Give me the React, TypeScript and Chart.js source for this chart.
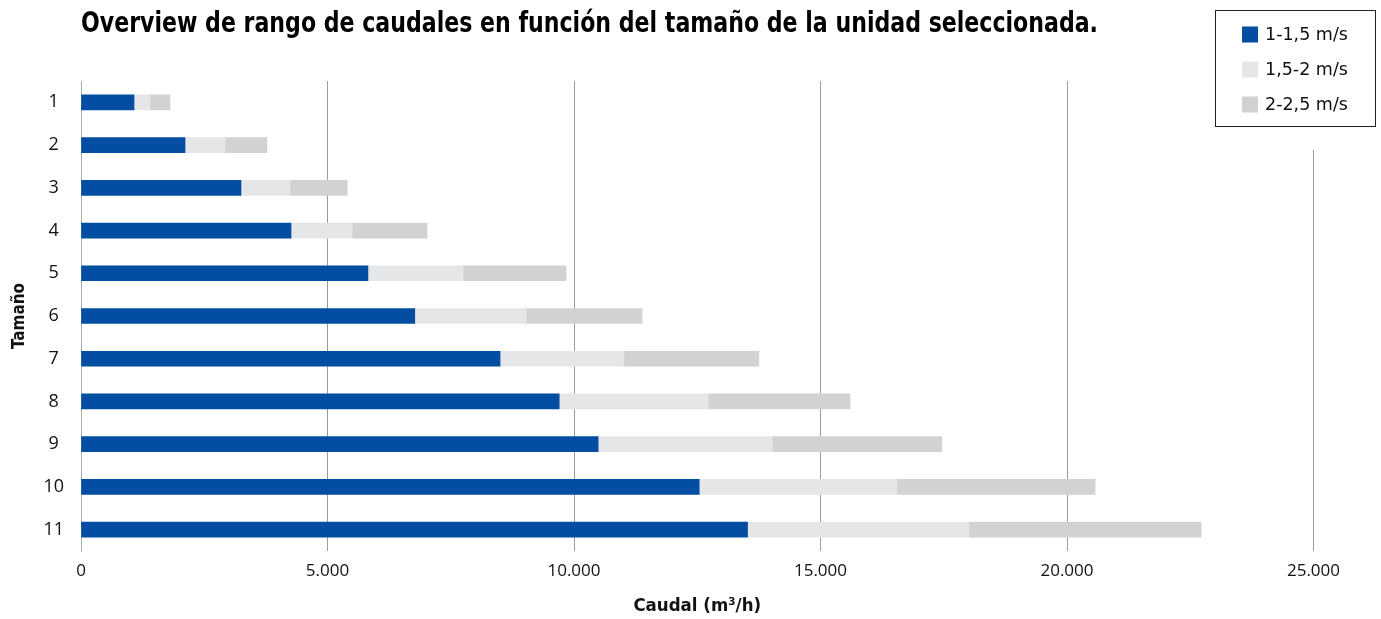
import React, { useEffect, useRef } from "react";
import { Chart, registerables } from "chart.js";

Chart.register(...registerables);

const TITLE = "Overview de rango de caudales en función del tamaño de la unidad seleccionada.";
const X_TITLE = "Caudal (m³/h)";
const Y_TITLE = "Tamaño";

const categories = ["1", "2", "3", "4", "5", "6", "7", "8", "9", "10", "11"];
const seriesNames = ["1-1,5 m/s", "1,5-2 m/s", "2-2,5 m/s"];
const seriesColors = ["#034EA2", "#E5E6E7", "#D1D2D4"];

// stacked segment values (m3/h)
const speed1 = [1075, 2110, 3245, 4260, 5820, 6770, 8500, 9700, 10490, 12540, 13520];
const speed2 = [325, 810, 995, 1240, 1930, 2260, 2510, 3020, 3530, 4010, 4490];
const speed3 = [405, 850, 1160, 1520, 2090, 2350, 2740, 2880, 3440, 4020, 4710];

const X_MIN = 0;
const X_MAX = 25000;
const X_STEP = 5000;

const BOLD_FAMILY = '"DejaVu Sans Condensed", "DejaVu Sans", sans-serif';

function fmt(v: number): string {
  const s = Math.round(v).toString();
  return s.replace(/\B(?=(\d{3})+(?!\d))/g, ".");
}

const overlayPlugin = {
  id: "overlay",
  afterDraw(chart: any) {
    const ctx = chart.ctx as CanvasRenderingContext2D;
    ctx.save();
    // title
    const target = 1017;
    const size = 28;
    ctx.font = `bold ${size}px ${BOLD_FAMILY}`;
    const w = ctx.measureText(TITLE).width;
    ctx.fillStyle = "#000";
    ctx.textBaseline = "alphabetic";
    ctx.textAlign = "left";
    ctx.save();
    ctx.translate(chart.chartArea.left, 32);
    ctx.scale(target / w, 1);
    ctx.fillText(TITLE, 0, 0);
    ctx.restore();

    // legend
    ctx.fillStyle = "#fff";
    ctx.fillRect(1200, 0, 181, 150);
    ctx.strokeStyle = "#222";
    ctx.lineWidth = 1;
    ctx.strokeRect(1215.5, 10.5, 160, 116);
    const rows = [34.5, 69.5, 104.5];
    ctx.font = `17.5px "DejaVu Sans", sans-serif`;
    ctx.textBaseline = "middle";
    for (let i = 0; i < seriesNames.length; i++) {
      ctx.fillStyle = seriesColors[i];
      ctx.fillRect(1242, rows[i] - 8, 16, 16);
      ctx.fillStyle = "#111";
      ctx.fillText(seriesNames[i], 1265, rows[i] + 1);
    }
    ctx.restore();
  },
};

export default function App() {
  const ref = useRef<HTMLCanvasElement | null>(null);
  useEffect(() => {
    if (!ref.current) return;
    const data = [speed1, speed2, speed3];
    const chart = new Chart(ref.current, {
      type: "bar",
      data: {
        labels: categories,
        datasets: seriesNames.map((name, i) => ({
          label: name,
          data: data[i],
          backgroundColor: seriesColors[i],
          borderWidth: 0,
          barThickness: 15,
        })),
      },
      options: {
        indexAxis: "y",
        responsive: false,
        animation: false,
        layout: { padding: { top: 81, right: 67.5, left: 0, bottom: 0 } },
        plugins: {
          legend: { display: false },
          title: { display: false },
          tooltip: { enabled: false },
        },
        scales: {
          x: {
            type: "linear",
            stacked: true,
            min: X_MIN,
            max: X_MAX,
            afterFit: (s: any) => {
              s.height = 68;
            },
            ticks: {
              stepSize: X_STEP,
              padding: 10,
              color: "#111",
              font: { family: '"Open Sans", sans-serif', size: 17 },
              callback: (v: any) => fmt(Number(v)),
              maxRotation: 0,
            },
            grid: { color: "#9a9a9a", lineWidth: 1, drawTicks: false, tickLength: 0 },
            border: { display: false },
            title: {
              display: true,
              text: X_TITLE,
              color: "#111",
              font: { family: BOLD_FAMILY, size: 18.5, weight: "bold" },
              padding: { top: 0, bottom: 2 },
            },
          },
          y: {
            type: "category",
            stacked: true,
            afterFit: (s: any) => {
              s.width = 81;
            },
            ticks: {
              padding: 17,
              crossAlign: "center",
              color: "#111",
              font: { family: '"Open Sans", sans-serif', size: 18 },
            },
            grid: { display: false, drawTicks: false, tickLength: 0 },
            border: { display: true, color: "#b0b0b0", width: 1 },
            title: {
              display: true,
              text: Y_TITLE,
              color: "#111",
              font: { family: BOLD_FAMILY, size: 17, weight: "bold" },
              padding: { top: 9, bottom: 0 },
            },
          },
        },
      },
      plugins: [overlayPlugin],
    });
    return () => chart.destroy();
  }, []);
  return (
    <div style={{ position: "fixed", left: 0, top: 0, width: 1381, height: 619, background: "#fff" }}>
      <canvas ref={ref} width={1381} height={619} />
    </div>
  );
}
